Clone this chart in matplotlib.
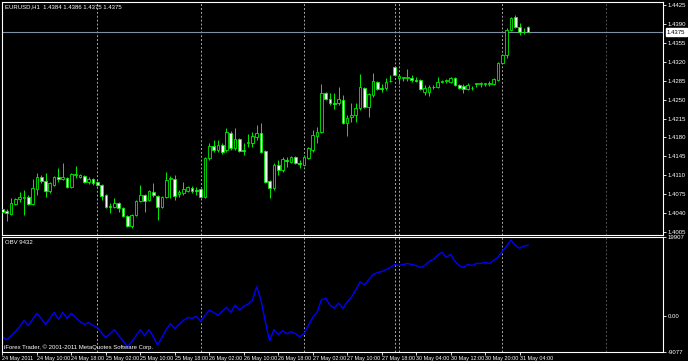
import numpy as np
import matplotlib.pyplot as plt

# EURUSD H1 bars, 24 May 2011 02:00 .. 31 May 2011 06:00
opens = [1.4048, 1.4044, 1.4038, 1.4057, 1.4066, 1.4068, 1.4070, 1.4057, 1.4085, 1.4107,
         1.4100, 1.4081, 1.4092, 1.4107, 1.4103, 1.4105, 1.4088, 1.4111, 1.4107, 1.4109,
         1.4098, 1.4103, 1.4098, 1.4092, 1.4074, 1.4053, 1.4051, 1.4059, 1.4050, 1.4035,
         1.4016, 1.4037, 1.4062, 1.4074, 1.4064, 1.4079, 1.4072, 1.4051, 1.4070, 1.4103,
         1.4103, 1.4075, 1.4077, 1.4081, 1.4087, 1.4083, 1.4085, 1.4070, 1.4142, 1.4164,
         1.4157, 1.4166, 1.4157, 1.4188, 1.4161, 1.4177, 1.4157, 1.4170, 1.4170, 1.4181,
         1.4188, 1.4155, 1.4100, 1.4087, 1.4129, 1.4120, 1.4138, 1.4135, 1.4144, 1.4133,
         1.4129, 1.4142, 1.4157, 1.4183, 1.4190, 1.4262, 1.4251, 1.4244, 1.4244, 1.4249,
         1.4207, 1.4218, 1.4222, 1.4235, 1.4271, 1.4236, 1.4259, 1.4283, 1.4271, 1.4271,
         1.4284, 1.4310, 1.4290, 1.4290, 1.4290, 1.4290, 1.4286, 1.4286, 1.4264, 1.4264,
         1.4273, 1.4273, 1.4283, 1.4284, 1.4283, 1.4290, 1.4277, 1.4275, 1.4270, 1.4271,
         1.4279, 1.4279, 1.4279, 1.4279, 1.4279, 1.4286, 1.4318, 1.4333, 1.4379, 1.4403,
         1.4384, 1.4375, 1.4384]
highs = [1.4051, 1.4048, 1.4068, 1.4068, 1.4079, 1.4083, 1.4074, 1.4103, 1.4114, 1.4111,
         1.4114, 1.4098, 1.4109, 1.4124, 1.4133, 1.4107, 1.4114, 1.4127, 1.4112, 1.4111,
         1.4107, 1.4105, 1.4100, 1.4094, 1.4075, 1.4059, 1.4068, 1.4061, 1.4051, 1.4037,
         1.4038, 1.4064, 1.4092, 1.4075, 1.4083, 1.4096, 1.4074, 1.4072, 1.4116, 1.4109,
         1.4111, 1.4083, 1.4098, 1.4090, 1.4090, 1.4088, 1.4087, 1.4144, 1.4170, 1.4175,
         1.4175, 1.4170, 1.4197, 1.4192, 1.4197, 1.4179, 1.4170, 1.4186, 1.4190, 1.4203,
         1.4207, 1.4157, 1.4101, 1.4133, 1.4138, 1.4144, 1.4144, 1.4146, 1.4146, 1.4138,
         1.4148, 1.4162, 1.4194, 1.4199, 1.4279, 1.4264, 1.4262, 1.4262, 1.4273, 1.4258,
         1.4222, 1.4244, 1.4244, 1.4297, 1.4273, 1.4262, 1.4299, 1.4284, 1.4279, 1.4290,
         1.4296, 1.4312, 1.4296, 1.4292, 1.4307, 1.4296, 1.4292, 1.4288, 1.4277, 1.4277,
         1.4277, 1.4292, 1.4286, 1.4288, 1.4292, 1.4292, 1.4279, 1.4279, 1.4281, 1.4275,
         1.4281, 1.4283, 1.4281, 1.4284, 1.4290, 1.4320, 1.4334, 1.4383, 1.4403, 1.4407,
         1.4392, 1.4383, 1.4386]
lows = [1.4038, 1.4025, 1.4037, 1.4055, 1.4061, 1.4037, 1.4055, 1.4055, 1.4074, 1.4096,
        1.4070, 1.4077, 1.4090, 1.4098, 1.4101, 1.4087, 1.4087, 1.4105, 1.4105, 1.4096,
        1.4094, 1.4092, 1.4090, 1.4064, 1.4050, 1.4040, 1.4050, 1.4042, 1.4033, 1.4014,
        1.4012, 1.4035, 1.4061, 1.4042, 1.4062, 1.4070, 1.4027, 1.4050, 1.4068, 1.4068,
        1.4064, 1.4070, 1.4074, 1.4079, 1.4077, 1.4074, 1.4068, 1.4068, 1.4138, 1.4153,
        1.4153, 1.4149, 1.4153, 1.4157, 1.4157, 1.4153, 1.4148, 1.4162, 1.4162, 1.4175,
        1.4151, 1.4096, 1.4068, 1.4083, 1.4111, 1.4116, 1.4125, 1.4133, 1.4131, 1.4124,
        1.4127, 1.4140, 1.4153, 1.4170, 1.4188, 1.4249, 1.4240, 1.4233, 1.4240, 1.4205,
        1.4183, 1.4209, 1.4209, 1.4231, 1.4235, 1.4218, 1.4255, 1.4268, 1.4264, 1.4268,
        1.4283, 1.4294, 1.4279, 1.4284, 1.4284, 1.4283, 1.4283, 1.4268, 1.4259, 1.4257,
        1.4270, 1.4271, 1.4281, 1.4281, 1.4281, 1.4275, 1.4270, 1.4262, 1.4268, 1.4268,
        1.4273, 1.4273, 1.4275, 1.4275, 1.4277, 1.4284, 1.4316, 1.4327, 1.4377, 1.4383,
        1.4370, 1.4371, 1.4375]
closes = [1.4042, 1.4040, 1.4059, 1.4066, 1.4070, 1.4070, 1.4057, 1.4087, 1.4107, 1.4100,
          1.4081, 1.4096, 1.4107, 1.4103, 1.4107, 1.4088, 1.4112, 1.4112, 1.4111, 1.4098,
          1.4103, 1.4096, 1.4092, 1.4072, 1.4051, 1.4051, 1.4059, 1.4050, 1.4035, 1.4016,
          1.4037, 1.4062, 1.4074, 1.4062, 1.4081, 1.4074, 1.4051, 1.4070, 1.4101, 1.4105,
          1.4072, 1.4079, 1.4085, 1.4088, 1.4081, 1.4081, 1.4070, 1.4142, 1.4164, 1.4157,
          1.4166, 1.4153, 1.4190, 1.4161, 1.4177, 1.4155, 1.4155, 1.4172, 1.4183, 1.4188,
          1.4153, 1.4098, 1.4087, 1.4129, 1.4120, 1.4140, 1.4136, 1.4144, 1.4133, 1.4131,
          1.4144, 1.4161, 1.4185, 1.4190, 1.4262, 1.4251, 1.4244, 1.4242, 1.4251, 1.4207,
          1.4216, 1.4222, 1.4235, 1.4273, 1.4236, 1.4260, 1.4284, 1.4270, 1.4270, 1.4283,
          1.4285, 1.4296, 1.4294, 1.4291, 1.4292, 1.4286, 1.4284, 1.4270, 1.4271, 1.4273,
          1.4274, 1.4283, 1.4284, 1.4286, 1.4290, 1.4277, 1.4271, 1.4270, 1.4277, 1.4272,
          1.4280, 1.4280, 1.4280, 1.4281, 1.4288, 1.4318, 1.4333, 1.4379, 1.4401, 1.4384,
          1.4375, 1.4376, 1.4375]

# On Balance Volume
obv = [-5230, -5999, -4973, -3947, -2665, -1126, -2408, -869, 670, -613,
       -2152, -613, 926, -869, 926, -613, 670, -356, -1382, -2152,
       -1639, -2408, -2921, -4204, -5486, -4460, -3434, -4973, -6256, -7795,
       -6512, -4973, -3434, -4973, -3434, -5230, -7282, -5486, -3434, -1895,
       -3178, -2152, -1126, -356, -613, -100, -1382, 157, 1439, 926,
       157, 1183, 2209, 926, 2722, 1439, 2465, 2978, 4004, 7338,
       4004, -1382, -6256, -3434, -4717, -3691, -4460, -3947, -4460, -5230,
       -4460, -2408, -356, 926, 4004, 4517, 2722, 1952, 3235, 1952,
       3491, 4773, 6569, 8621, 7852, 9134, 10417, 10930, 11186, 11699,
       12212, 12982, 12725, 12982, 13238, 12982, 12725, 12212, 12725, 13751,
       14264, 15290, 16060, 14777, 15547, 13751, 12725, 12212, 12982, 12725,
       13238, 13238, 13495, 13238, 14008, 14777, 16316, 17599, 19138, 17855,
       17086, 17599, 17855]

time_labels = ["24 May 2011", "24 May 10:00", "24 May 18:00", "25 May 02:00",
               "25 May 10:00", "25 May 18:00", "26 May 02:00", "26 May 10:00",
               "26 May 18:00", "27 May 02:00", "27 May 10:00", "27 May 18:00",
               "30 May 04:00", "30 May 12:00", "30 May 20:00", "31 May 04:00"]
label_bars = [0, 8, 16, 24, 32, 40, 48, 56, 64, 72, 80, 88, 96, 104, 112, 120]
separator_bars = [22, 46, 70, 91, 92, 116, 140]
price_ticks = [1.4005, 1.4040, 1.4075, 1.4110, 1.4145, 1.4180, 1.4215,
               1.4250, 1.4285, 1.4320, 1.4355, 1.4390, 1.4425]
obv_ticks = [-9077, 0, 19907]
obv_tick_labels = ["-9077", "0.00", "19907"]
bid = 1.4375
header = "EURUSD,H1  1.4384 1.4386 1.4375 1.4375"

plt.rcParams['font.family'] = ['Liberation Sans', 'DejaVu Sans']

W, H = 688, 361
fig = plt.figure(figsize=(W / 100, H / 100), dpi=100, facecolor='black')
ax1 = fig.add_axes([2 / W, 1 - 235 / H, 661 / W, 233 / H], facecolor='black')
ax2 = fig.add_axes([2 / W, 1 - 352 / H, 661 / W, 115 / H], facecolor='black')

fs = 4.3
lime = '#00f000'
x = np.arange(len(closes))
o = np.array(opens)
c = np.array(closes)
up = c >= o

# candles
ax1.vlines(x, lows, highs, color=lime, lw=0.7, zorder=2)
body_lo = np.minimum(o, c)
body_h = np.maximum(np.abs(c - o), 0.00004)
ax1.bar(x[up], body_h[up], bottom=body_lo[up], width=0.62, color='black',
        edgecolor=lime, linewidth=0.6, zorder=3)
ax1.bar(x[~up], body_h[~up], bottom=body_lo[~up], width=0.62, color='white',
        edgecolor=lime, linewidth=0.6, zorder=3)

# bid line + price box
ax1.axhline(bid, color='#7f8fa6', lw=0.8, zorder=1)
ax1.text(1.006, bid, "%.4f" % bid, transform=ax1.get_yaxis_transform(),
         fontsize=fs, color='black', va='center', ha='left', clip_on=False,
         bbox=dict(boxstyle='square,pad=0.2', fc='white', ec='white'))

# OBV
ax2.plot(x, obv, color='#0000ff', lw=1.0)

# day separators
for b in separator_bars:
    col = '#505050' if b > len(closes) else '#a8a8a8'
    for a in (ax1, ax2):
        a.axvline(b, color=col, lw=0.7, ls=(0, (2, 2)), zorder=0)

xlim = (-0.1, 153.3)
ax1.set_xlim(xlim)
ax2.set_xlim(xlim)
ax1.set_ylim(1.39996, 1.44306)
ax2.set_ylim(-9077, 19907)

for a in (ax1, ax2):
    for s in a.spines.values():
        s.set_color('white')
        s.set_linewidth(0.8)
    a.yaxis.tick_right()
    a.tick_params(axis='y', colors='white', labelsize=fs, length=2, width=0.6, pad=1.5)

ax1.set_yticks(price_ticks)
ax1.set_yticklabels(["%.4f" % p for p in price_ticks])
ax1.tick_params(axis='x', bottom=False, labelbottom=False)
ax2.set_yticks(obv_ticks)
ax2.set_yticklabels(obv_tick_labels)
ax2.set_xticks(label_bars)
ax2.set_xticklabels(time_labels, ha='left')
ax2.tick_params(axis='x', colors='white', labelsize=3.9, length=2.5, width=0.6, pad=0.5)
for lbl in ax2.get_xticklabels():
    lbl.set_x(lbl.get_position()[0])

fig.text(5 / W, 1 - 7 / H, header, color='white', fontsize=fs, va='center', ha='left')
fig.text(5 / W, 1 - 243 / H, "OBV 9432", color='white', fontsize=fs, va='center', ha='left')
fig.text(4 / W, 1 - 347 / H, "iForex Trader, \u00a9 2001-2011 MetaQuotes Software Corp.",
         color='white', fontsize=fs, va='center', ha='left')

fig.savefig("out.png", dpi=100, facecolor='black')
